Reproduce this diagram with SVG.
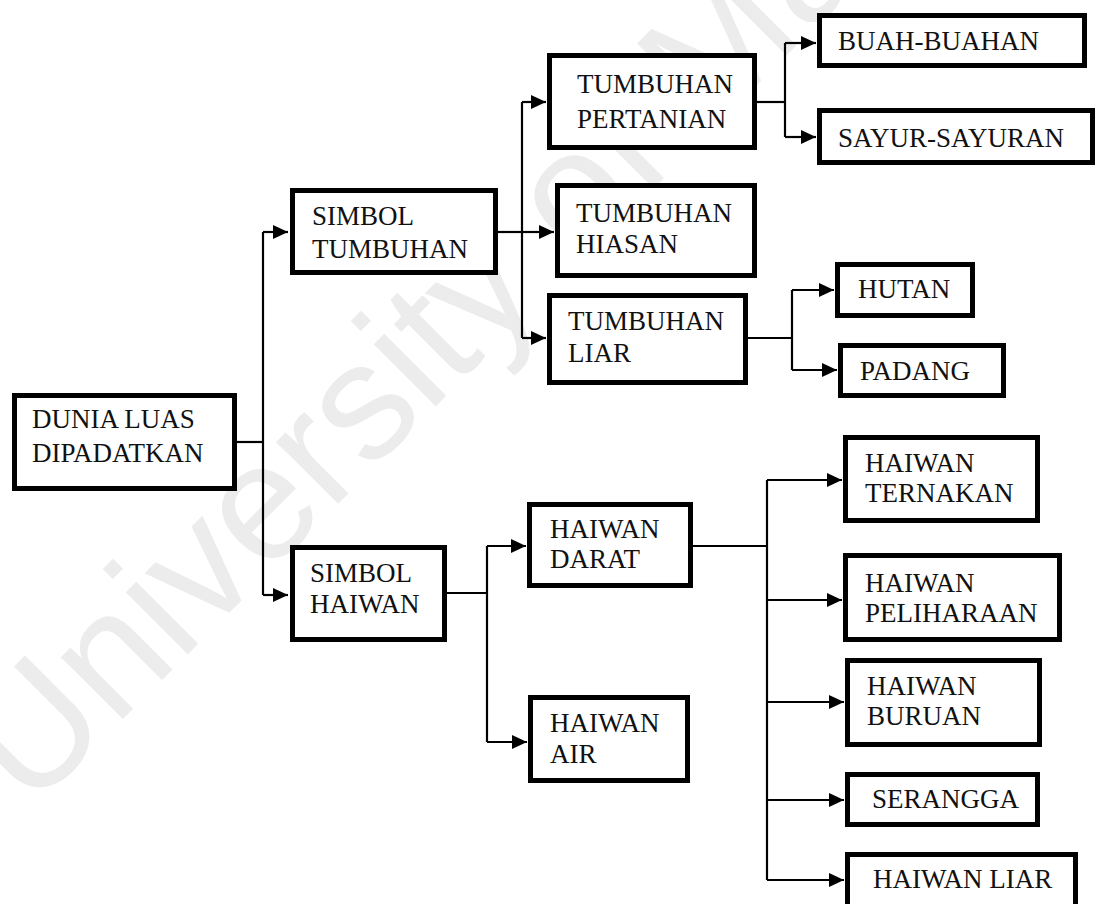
<svg xmlns="http://www.w3.org/2000/svg" width="1096" height="904" viewBox="0 0 1096 904">
<style>
.box{fill:#fff;stroke:#000;stroke-width:5}
.t{font-family:"Liberation Serif","Times New Roman",serif;font-size:27px;fill:#111}
.c{fill:none;stroke:#000;stroke-width:2.2}
.wm{font-family:"Liberation Sans",Arial,sans-serif;font-size:166px;fill:#ececec}
</style>
<defs>
<marker id="ah" markerUnits="userSpaceOnUse" markerWidth="16" markerHeight="14" refX="15" refY="7" orient="auto">
<path d="M0,0 L15,7 L0,14 z" fill="#000"/>
</marker>
</defs>
<rect width="1096" height="904" fill="#fff"/>
<text class="wm" transform="translate(30,812) rotate(-45)">University of Ma</text>
<g id="connectors">
<path class="c" d="M237,442 H263"/>
<path class="c" d="M263,232 V595"/>
<path class="c" d="M263,232 H288" marker-end="url(#ah)"/>
<path class="c" d="M263,595 H288" marker-end="url(#ah)"/>
<path class="c" d="M497,232 H522"/>
<path class="c" d="M522,102 V338"/>
<path class="c" d="M522,102 H546" marker-end="url(#ah)"/>
<path class="c" d="M522,232 H554" marker-end="url(#ah)"/>
<path class="c" d="M522,338 H546" marker-end="url(#ah)"/>
<path class="c" d="M756,102 H785"/>
<path class="c" d="M785,43 V137"/>
<path class="c" d="M785,43 H816" marker-end="url(#ah)"/>
<path class="c" d="M785,137 H816" marker-end="url(#ah)"/>
<path class="c" d="M747,338 H792"/>
<path class="c" d="M792,290 V370"/>
<path class="c" d="M792,290 H834" marker-end="url(#ah)"/>
<path class="c" d="M792,370 H837" marker-end="url(#ah)"/>
<path class="c" d="M446,593 H487"/>
<path class="c" d="M487,546 V742"/>
<path class="c" d="M487,546 H526" marker-end="url(#ah)"/>
<path class="c" d="M487,742 H527" marker-end="url(#ah)"/>
<path class="c" d="M692,546 H767"/>
<path class="c" d="M767,480 V880"/>
<path class="c" d="M767,480 H842" marker-end="url(#ah)"/>
<path class="c" d="M767,600 H842" marker-end="url(#ah)"/>
<path class="c" d="M767,702 H844" marker-end="url(#ah)"/>
<path class="c" d="M767,800 H844" marker-end="url(#ah)"/>
<path class="c" d="M767,880 H844" marker-end="url(#ah)"/>
</g>
<g id="n-dunia"><rect class="box" x="14.5" y="395.5" width="220" height="93"/><text class="t" x="32" y="428">DUNIA LUAS</text><text class="t" x="32" y="462">DIPADATKAN</text></g>
<g id="n-simbol-tumbuhan"><rect class="box" x="292.5" y="190.5" width="203" height="82"/><text class="t" x="312" y="225">SIMBOL</text><text class="t" x="312" y="258">TUMBUHAN</text></g>
<g id="n-tumbuhan-pertanian"><rect class="box" x="549.5" y="55.5" width="205" height="92"/><text class="t" x="577" y="93">TUMBUHAN</text><text class="t" x="577" y="128">PERTANIAN</text></g>
<g id="n-tumbuhan-hiasan"><rect class="box" x="557.5" y="185.5" width="197" height="90"/><text class="t" x="576" y="222">TUMBUHAN</text><text class="t" x="576" y="253">HIASAN</text></g>
<g id="n-tumbuhan-liar"><rect class="box" x="549.5" y="295.5" width="196" height="87"/><text class="t" x="568" y="330">TUMBUHAN</text><text class="t" x="568" y="362">LIAR</text></g>
<g id="n-buah"><rect class="box" x="819.5" y="15.5" width="265" height="50"/><text class="t" x="838" y="50">BUAH-BUAHAN</text></g>
<g id="n-sayur"><rect class="box" x="819.5" y="110.5" width="273" height="52"/><text class="t" x="838" y="147">SAYUR-SAYURAN</text></g>
<g id="n-hutan"><rect class="box" x="837.5" y="264.5" width="135" height="51"/><text class="t" x="858" y="298">HUTAN</text></g>
<g id="n-padang"><rect class="box" x="840.5" y="345.5" width="163" height="50"/><text class="t" x="860" y="380">PADANG</text></g>
<g id="n-simbol-haiwan"><rect class="box" x="292.5" y="547.5" width="152" height="92"/><text class="t" x="310" y="582">SIMBOL</text><text class="t" x="310" y="613">HAIWAN</text></g>
<g id="n-haiwan-darat"><rect class="box" x="529.5" y="504.5" width="161" height="81"/><text class="t" x="550" y="538">HAIWAN</text><text class="t" x="550" y="568">DARAT</text></g>
<g id="n-haiwan-air"><rect class="box" x="530.5" y="697.5" width="157" height="83"/><text class="t" x="550" y="732">HAIWAN</text><text class="t" x="550" y="763">AIR</text></g>
<g id="n-ternakan"><rect class="box" x="845.5" y="437.5" width="192" height="83"/><text class="t" x="865" y="472">HAIWAN</text><text class="t" x="865" y="502">TERNAKAN</text></g>
<g id="n-peliharaan"><rect class="box" x="845.5" y="555.5" width="214" height="84"/><text class="t" x="865" y="592">HAIWAN</text><text class="t" x="865" y="622">PELIHARAAN</text></g>
<g id="n-buruan"><rect class="box" x="847.5" y="660.5" width="192" height="84"/><text class="t" x="867" y="695">HAIWAN</text><text class="t" x="867" y="725">BURUAN</text></g>
<g id="n-serangga"><rect class="box" x="847.5" y="774.5" width="190" height="50"/><text class="t" x="872" y="808">SERANGGA</text></g>
<g id="n-haiwan-liar"><rect class="box" x="847.5" y="854.5" width="228" height="60"/><text class="t" x="873" y="888">HAIWAN LIAR</text></g>
</svg>
